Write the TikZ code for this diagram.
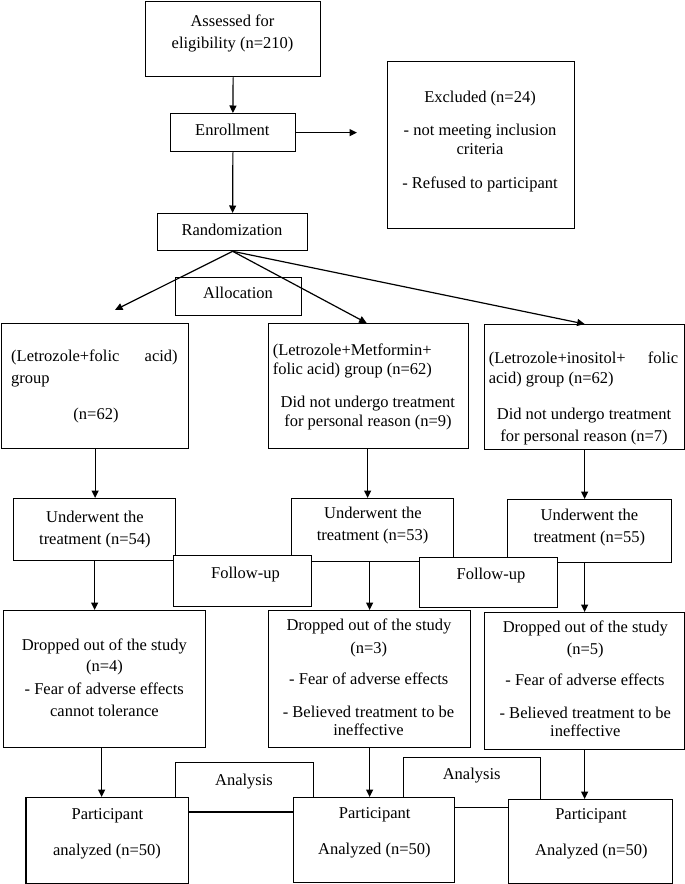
\documentclass[tikz,border=0pt]{standalone}
\usepackage{fontspec}
\setmainfont{Liberation Serif}
\usetikzlibrary{arrows.meta}
\newcommand\fsz{\fontsize{16.5}{22}\selectfont}
\tikzset{
  box/.style={draw, fill=white, line width=1.3pt, inner sep=0pt, anchor=north west},
  txt/.style={inner sep=0pt, font=\fsz, anchor=base},
  txtl/.style={inner sep=0pt, font=\fsz, anchor=base west},
  arr/.style={line width=1.2pt, -{Triangle[length=7.5pt,width=7pt]}},
  ln/.style={line width=1.2pt}
}
\begin{document}
\begin{tikzpicture}[x=1pt,y=-1pt]
\useasboundingbox (0,0) rectangle (685,884);
% boxes
\node[box, minimum width=175pt, minimum height=75pt] (assess) at (145,1) {};
\node[box, minimum width=124.5pt, minimum height=38pt] (enroll) at (170,113) {};
\node[box, minimum width=187.5pt, minimum height=167pt] (excl) at (386.5,61) {};
\node[box, minimum width=150pt, minimum height=37pt] (rand) at (157,213) {};
\node[box, minimum width=126pt, minimum height=38pt] (alloc) at (175,277) {};
\node[box, minimum width=187pt, minimum height=125pt] (g1) at (1,323) {};
\node[box, minimum width=200pt, minimum height=125pt] (g2) at (268,323) {};
\node[box, minimum width=200pt, minimum height=125pt] (g3) at (484,324) {};
\node[box, minimum width=162pt, minimum height=62pt] (u1) at (13,498) {};
\node[box, minimum width=162pt, minimum height=62.5pt] (u2) at (291,498) {};
\node[box, minimum width=163.5pt, minimum height=63pt] (u3) at (507,499) {};
\node[box, minimum width=137.5pt, minimum height=50.5pt] (f1) at (173,555) {};
\node[box, minimum width=137.5pt, minimum height=50pt] (f2) at (419,556.7) {};
\node[box, minimum width=202pt, minimum height=137pt] (d1) at (3,610) {};
\node[box, minimum width=202pt, minimum height=137pt] (d2) at (268,610) {};
\node[box, minimum width=200pt, minimum height=137pt] (d3) at (484,612) {};
\node[box, minimum width=137.7pt, minimum height=49.3pt] (an1) at (175,762) {};
\node[box, minimum width=137.3pt, minimum height=50pt] (an2) at (402.7,756.7) {};
\node[box, minimum width=162.6pt, minimum height=86pt] (p1) at (25.4,797) {};
\node[box, minimum width=161.5pt, minimum height=85pt] (p2) at (292.5,797) {};
\node[box, minimum width=164pt, minimum height=84pt] (p3) at (508,799) {};
% texts
\node[txt] (assess1) at (232.5,26) {Assessed for};
\node[txt] (assess2) at (232.5,48) {eligibility (n=210)};
\node[txt] (enroll1) at (232.3,135) {Enrollment};
\node[txt] (excl1) at (480,102) {Excluded (n=24)};
\node[txt] (excl2) at (480,135) {- not meeting inclusion};
\node[txt] (excl3) at (480,154) {criteria};
\node[txt] (excl4) at (480,188) {- Refused to participant};
\node[txt] (rand1) at (232,235) {Randomization};
\node[txt] (alloc1) at (238,298.3) {Allocation};
\node[txtl] (g1a) at (11,361) {\makebox[166.5pt][s]{(Letrozole+folic acid)}};
\node[txtl] (g1b) at (11,383) {group};
\node[txt] (g1c) at (96,419.3) {(n=62)};
\node[txtl] (g2a) at (272.6,355) {(Letrozole+Metformin+};
\node[txtl] (g2b) at (272.6,374) {folic acid) group (n=62)};
\node[txt] (g2c) at (367.8,407.3) {Did not undergo treatment};
\node[txt] (g2d) at (368,426.7) {for personal reason (n=9)};
\node[txtl] (g3a) at (488.6,363.3) {\makebox[189.4pt][s]{(Letrozole+inositol+ folic}};
\node[txtl] (g3b) at (488.6,383.3) {acid) group (n=62)};
\node[txt] (g3c) at (584,419.3) {Did not undergo treatment};
\node[txt] (g3d) at (584,441) {for personal reason (n=7)};
\node[txt] (u1a) at (94.9,522.7) {Underwent the};
\node[txt] (u1b) at (94.9,544.3) {treatment (n=54)};
\node[txt] (u2a) at (373,518.7) {Underwent the};
\node[txt] (u2b) at (372.5,540.7) {treatment (n=53)};
\node[txt] (u3a) at (589.4,520.3) {Underwent the};
\node[txt] (u3b) at (589.4,542.3) {treatment (n=55)};
\node[txt] (f1a) at (245.5,578.3) {Follow-up};
\node[txt] (f2a) at (491,579.3) {Follow-up};
\node[txt] (d1a) at (104.3,650) {Dropped out of the study};
\node[txt] (d1b) at (104.5,671.7) {(n=4)};
\node[txt] (d1c) at (104.2,694) {- Fear of adverse effects};
\node[txt] (d1d) at (104.4,716) {cannot tolerance};
\node[txt] (d2a) at (369,630.7) {Dropped out of the study};
\node[txt] (d2b) at (368.8,653.3) {(n=3)};
\node[txt] (d2c) at (368.8,684.3) {- Fear of adverse effects};
\node[txt] (d2d) at (368.5,717.3) {- Believed treatment to be};
\node[txt] (d2e) at (368.5,735.7) {ineffective};
\node[txt] (d3a) at (585.3,632.3) {Dropped out of the study};
\node[txt] (d3b) at (585.3,654.7) {(n=5)};
\node[txt] (d3c) at (585,685.7) {- Fear of adverse effects};
\node[txt] (d3d) at (585.3,718.3) {- Believed treatment to be};
\node[txt] (d3e) at (585.3,736.7) {ineffective};
\node[txt] (an1a) at (244,785) {Analysis};
\node[txt] (an2a) at (471.7,779.3) {Analysis};
\node[txt] (p1a) at (107.4,819.3) {Participant};
\node[txt] (p1b) at (107,855) {analyzed (n=50)};
\node[txt] (p2a) at (374.7,818) {Participant};
\node[txt] (p2b) at (374.4,854) {Analyzed (n=50)};
\node[txt] (p3a) at (591,819.3) {Participant};
\node[txt] (p3b) at (591.3,855.3) {Analyzed (n=50)};
% connectors
\coordinate (exend) at (357,134);
\coordinate (leftend) at (115,310);
\draw[arr] (assess.south) -- (enroll.north);
\draw[arr] (enroll.east) -- (enroll.east -| exend);
\draw[arr] (enroll.south) -- (rand.north);
\draw[arr] (rand.south) -- (leftend);
\draw[arr] (rand.south) -- ([xshift=-2pt]g2.north);
\draw[arr] (rand.south) -- (g3.north);
\draw[arr] (g1.south) -- (g1.south |- u1.north);
\draw[arr] ([xshift=-1pt]g2.south) -- ([xshift=-1pt]g2.south |- u2.north);
\draw[arr] (g3.south) -- (g3.south |- u3.north);
\draw[arr] (u1.south) -- (u1.south |- d1.north);
\draw[arr] (d2.north |- u2.south) -- (d2.north);
\draw[arr] (d3.north |- u3.south) -- (d3.north);
\draw[arr] ([xshift=-3pt]d1.south) -- ([xshift=-3pt]d1.south |- p1.north);
\draw[arr] (d2.south) -- (d2.south |- p2.north);
\draw[arr] (d3.south) -- (d3.south |- p3.north);
\end{tikzpicture}
\end{document}
